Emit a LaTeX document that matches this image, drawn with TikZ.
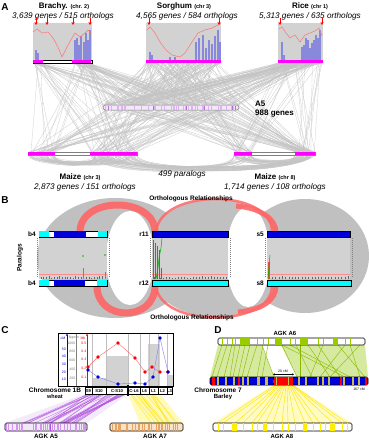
\documentclass[tikz,border=0pt]{standalone}
\usepackage{fontspec}
\setmainfont{Liberation Sans}
\usetikzlibrary{arrows.meta}
\definecolor{mag}{HTML}{FF00FF}
\definecolor{pbg}{HTML}{D2D2D2}
\definecolor{lred}{HTML}{FF6666}
\definecolor{lblue}{HTML}{8888DD}
\definecolor{bblue}{HTML}{0000DD}
\definecolor{bcyan}{HTML}{00FFFF}
\definecolor{ggray}{HTML}{C0C0C0}
\definecolor{lgreen}{HTML}{C8E480}
\definecolor{dgreen}{HTML}{99CC00}
\definecolor{khaki}{HTML}{C8BC50}
\definecolor{lav}{HTML}{F2E8FA}
\definecolor{purp}{HTML}{B050E0}
\definecolor{peach}{HTML}{FBE2C4}
\definecolor{orng}{HTML}{E4A464}
\definecolor{yel}{HTML}{FFEE00}
\definecolor{lgl}{HTML}{C4C4C4}
\tikzset{
  ttl/.style={font=\bfseries\fontsize{8}{9}\selectfont, inner sep=0pt},
  itl/.style={font=\itshape\fontsize{8.2}{9}\selectfont, inner sep=0pt},
  plab/.style={font=\bfseries\fontsize{10}{11}\selectfont, inner sep=0pt},
  bl/.style={font=\bfseries\fontsize{6.5}{7}\selectfont, inner sep=0pt},
  tiny/.style={font=\fontsize{3.5}{4}\selectfont, inner sep=0pt},
  gl/.style={draw=lgl, line width=0.3pt, opacity=0.8},
  redarr/.style={-{Stealth[length=3pt,width=3pt]}, red, line width=0.6pt},
  pline/.style={red!55, line width=0.5pt},
  chrbar/.style={draw=black, line width=0.5pt},
}
\begin{document}
\begin{tikzpicture}[x=1pt,y=-1pt]
\useasboundingbox (0,0) rectangle (369,440);
\fill[white] (0,0) rectangle (369,440);
% ================= PANEL A =================
\pgfmathsetseed{11}
% gray lines top -> A5
\foreach \i in {1,...,60}{
  \pgfmathsetmacro\xa{rnd<0.3?33+10*rnd:72+19*rnd}
  \pgfmathsetmacro\xb{103+136*rnd}
  \draw[gl] (\xa,63) -- (\xb,105);}
\foreach \i in {1,...,100}{
  \pgfmathsetmacro\xa{146+75*rnd}
  \pgfmathsetmacro\xb{103+136*rnd}
  \draw[gl] (\xa,63) -- (\xb,105);}
\foreach \i in {1,...,80}{
  \pgfmathsetmacro\xa{278+45*rnd}
  \pgfmathsetmacro\xb{103+136*rnd}
  \draw[gl] (\xa,63) -- (\xb,105);}
% top -> maize directly
\foreach \i in {1,...,45}{
  \pgfmathsetmacro\xa{rnd<0.3?33+10*rnd:(rnd<0.5?72+19*rnd:146+75*rnd)}
  \pgfmathsetmacro\xb{rnd<0.4?28+27*rnd:90+47*rnd}
  \draw[gl] (\xa,63) -- (\xb,152);}
\foreach \i in {1,...,45}{
  \pgfmathsetmacro\xa{rnd<0.5?146+75*rnd:278+45*rnd}
  \pgfmathsetmacro\xb{rnd<0.4?234+18*rnd:295+20*rnd}
  \draw[gl] (\xa,63) -- (\xb,152);}
% A5 -> maize
\foreach \i in {1,...,60}{
  \pgfmathsetmacro\xa{103+136*rnd}
  \pgfmathsetmacro\xb{rnd<0.35?28+27*rnd:90+47*rnd}
  \draw[gl] (\xa,110) -- (\xb,152);}
\foreach \i in {1,...,50}{
  \pgfmathsetmacro\xa{103+136*rnd}
  \pgfmathsetmacro\xb{rnd<0.4?234+18*rnd:295+20*rnd}
  \draw[gl] (\xa,110) -- (\xb,152);}
% paralog arcs
\foreach \i in {1,...,40}{
  \pgfmathsetmacro\xa{28+27*rnd}
  \pgfmathsetmacro\xb{90+47*rnd}
  \pgfmathsetmacro\d{163+6*rnd}
  \draw[gl] (\xa,155) .. controls (\xa,\d) and (\xb,\d) .. (\xb,155);}
\foreach \i in {1,...,50}{
  \pgfmathsetmacro\xa{90+47*rnd}
  \pgfmathsetmacro\xb{rnd<0.4?234+18*rnd:295+20*rnd}
  \pgfmathsetmacro\d{170+7*rnd}
  \draw[gl] (\xa,155) .. controls (\xa,\d) and (\xb,\d) .. (\xb,155);}
\foreach \i in {1,...,30}{
  \pgfmathsetmacro\xa{234+18*rnd}
  \pgfmathsetmacro\xb{295+20*rnd}
  \pgfmathsetmacro\d{162+6*rnd}
  \draw[gl] (\xa,155) .. controls (\xa,\d) and (\xb,\d) .. (\xb,155);}

\node[plab] (lA) at (5,7) {A};
% Brachy
\node[ttl] (brt) at (64,6) {Brachy. {\fontsize{5.5}{6}\selectfont (chr. 2)}};
\node[itl] (brs) at (63,16) {3,639 genes / 515 orthologs};
\fill[pbg] (33,23) rectangle (92,60);
\foreach \x/\t in {36/50,38/53,75/40,77/38,79/45,81/36,84/42,86/33,88/40,90/30}
  \fill[lblue] (\x-0.6,\t) rectangle (\x+0.6,60);
\draw[pline] (33,32) -- (37,29) -- (42,33) -- (48,32) -- (53,38) -- (58,47) -- (62,57) -- (67,47) -- (72,38) -- (75,33) -- (80,37) -- (85,33) -- (88,30) -- (91,33);
\draw[fill=white, line width=0.3pt] (33,60) rectangle (92,63);
\fill[mag] (33,60) rectangle (43,63);
\fill[mag] (72,60) rectangle (91,63);
\foreach \x in {36,47,73,90} \draw[redarr] (\x,18) -- (\x,25);
% Sorghum
\node[ttl] (sot) at (184,6) {Sorghum {\fontsize{5.5}{6}\selectfont (chr 3)}};
\node[itl] (sos) at (187,16) {4,565 genes / 584 orthologs};
\fill[pbg] (146,23) rectangle (221,60);
\foreach \x/\t in {150/52,152/55,170/57,175/57,196/42,199/38,203/35,206/48,209/40,212/44,215/36,218/30,220/42}
  \fill[lblue] (\x-0.6,\t) rectangle (\x+0.6,60);
\draw[pline] (147,30) -- (150,27) -- (155,33) -- (160,42) -- (166,50) -- (172,55) -- (180,57) -- (185,53) -- (192,42) -- (198,33) -- (205,30) -- (212,28) -- (218,25) -- (221,23);
\fill[mag] (146,60) rectangle (221,63);
\foreach \x in {149,219} \draw[redarr] (\x,18) -- (\x,25);
% Rice
\node[ttl] (rit) at (310,6) {Rice {\fontsize{5.5}{6}\selectfont (chr 1)}};
\node[itl] (ris) at (310,16) {5,313 genes / 635 orthologs};
\fill[pbg] (278,23) rectangle (323,60);
\foreach \x/\t in {282/42,284/55,302/47,304/45,306/38,308/40,310/48,312/43,314/40,316/35,318/38,320/30}
  \fill[lblue] (\x-0.6,\t) rectangle (\x+0.6,60);
\draw[pline] (279,29) -- (282,27) -- (286,33) -- (290,38) -- (295,35) -- (300,42) -- (305,35) -- (310,33) -- (315,31) -- (319,28) -- (322,36);
\fill[mag] (278,60) rectangle (323,63);
\foreach \x in {280,322} \draw[redarr] (\x,18) -- (\x,25);
% A5 bar
\draw[fill=lav, draw=gray, line width=0.5pt, rounded corners=2.5pt] (103,105) rectangle (239,110);
\foreach \i in {1,...,45}{
  \pgfmathsetmacro\xa{105+132*rnd}
  \draw[purp!45, line width=0.35pt] (\xa,105.5) -- (\xa,109.5);}
\foreach \x in {108,153,186,204,232,235}
  \draw[purp!85, line width=0.7pt] (\x,105.5) -- (\x,109.5);
\node[ttl, anchor=west] (a5a) at (255,104) {A5};
\node[ttl, anchor=west] (a5b) at (255,114) {988 genes};
% Maize bars
\draw[fill=white, draw=gray, line width=0.3pt] (28,152) rectangle (137,155);
\fill[mag] (28,152) rectangle (55,155);
\fill[mag] (90,152) rectangle (137,155);
\draw[fill=white, draw=gray, line width=0.3pt] (234,152) rectangle (315,155);
\fill[mag] (234,152) rectangle (252,155);
\fill[mag] (295,152) rectangle (315,155);
\node[ttl] (m3t) at (80,177) {Maize {\fontsize{5.5}{6}\selectfont (chr 3)}};
\node[itl] (m3s) at (85,187) {2,873 genes / 151 orthologs};
\node[itl] (par) at (182,174) {499 paralogs};
\node[ttl] (m8t) at (275,177) {Maize {\fontsize{5.5}{6}\selectfont (chr 8)}};
\node[itl] (m8s) at (275,187) {1,714 genes / 108 orthologs};

% ================= PANEL B =================
\node[plab] (lB) at (5,200) {B};
\fill[ggray] (115,258) ellipse [x radius=78, y radius=60];
\fill[ggray] (215,258) ellipse [x radius=72, y radius=59];
\fill[ggray] (305,256) ellipse [x radius=64, y radius=57];
\fill[white] (130,258) ellipse [x radius=24, y radius=47];
\fill[white] (248,257) ellipse [x radius=22, y radius=50];
\draw[lred, line width=7pt, opacity=0.9] (80,232) .. controls (80,196) and (155,196) .. (155,232);
\draw[lred, line width=7pt, opacity=0.9] (97,286) .. controls (97,322) and (155,322) .. (155,286);
\draw[lred, line width=2.5pt, opacity=0.85] (156,232) .. controls (160,188) and (272,188) .. (272,232);
\draw[lred, line width=2.5pt, opacity=0.85] (156,286) .. controls (160,328) and (272,328) .. (272,286);
\draw[lred, line width=5pt, opacity=0.9] (236,206) .. controls (262,208) and (276,220) .. (276,232);
\draw[lred, line width=5pt, opacity=0.9] (276,286) .. controls (276,300) and (262,310) .. (238,312);
\node[bl] (ort1) at (191,199) {Orthologous Relationships};
\node[bl] (ort2) at (192,318) {Orthologous Relationships};
% plots
\foreach \xa/\xb in {39/107,152/228,267/350}{
  \fill[pbg] (\xa,237) rectangle (\xb,279);
  \draw[red!45, line width=0.4pt] (\xa,274) -- (\xb,274);
  \draw[gray, line width=0.6pt, dash pattern=on 0.5pt off 1.5pt] (\xa-2,238) -- (\xa-2,278);
  \draw[gray, line width=0.6pt, dash pattern=on 0.5pt off 1.5pt] (\xb+2,238) -- (\xb+2,278);
  \foreach \k in {0,...,24}{
    \pgfmathsetmacro\xx{\xa+2+(\xb-\xa-4)*\k/24}
    \pgfmathsetmacro\hh{277.8-1.6*rnd}
    \draw[black!60, line width=0.35pt] (\xx,\hh) -- (\xx,279);}
}
% b4 plot details
\fill[red!70] (82.5,268) rectangle (83.5,279);
\fill[red!70] (105,272) rectangle (106,279);
\fill[green!70!black] (83,256) circle (0.9);
\fill[green!70!black] (105,255) circle (0.9);
% r11 details
\foreach \x/\t in {153.5/240,155.5/243,157.5/246,159.5/250,161.5/268}
  \fill[red!85] (\x-0.7,\t) rectangle (\x+0.7,279);
\draw[green!70!black, line width=0.5pt] (156,279) -- (158,268) -- (159,258) -- (161,248) -- (162,238);
% s5 details
\fill[red!75] (267.5,262) rectangle (270,279);
\draw[green!70!black, line width=0.5pt] (268,279) -- (269,266) -- (270,255);
% bars b4
\draw[chrbar, fill=white] (39,231) rectangle (107,237);
\fill[bcyan] (39.3,231.3) rectangle (49,236.7);
\fill[bblue] (54,231.3) rectangle (86,236.7);
\fill[bcyan] (98,231.3) rectangle (106.7,236.7);
\draw[chrbar, fill=white] (39,280) rectangle (107,286);
\fill[bcyan] (39.3,280.3) rectangle (49,285.7);
\fill[bblue] (54,280.3) rectangle (85,285.7);
\fill[bcyan] (97,280.3) rectangle (106.7,285.7);
\draw[chrbar, fill=bblue] (152,231) rectangle (228,237);
\draw[chrbar, fill=bcyan] (152,280) rectangle (228,286);
\draw[chrbar, fill=bblue] (267,231) rectangle (350,237);
\draw[chrbar, fill=bcyan] (267,280) rectangle (351,286);
\node[bl, anchor=east] (b4a) at (36,234) {b4};
\node[bl, anchor=east] (b4b) at (36,283) {b4};
\node[bl, anchor=east] (r11) at (149,234) {r11};
\node[bl, anchor=east] (r12) at (149,283) {r12};
\node[bl, anchor=east] (s5) at (264,234) {s5};
\node[bl, anchor=east] (s8) at (264,283) {s8};
\node[bl, rotate=90] (parl) at (20,258) {Paralogs};

% ================= PANEL C =================
\node[plab] (lC) at (5,330) {C};
% fans
\fill[lav, opacity=0.9] (85,394) -- (128,394) -- (87,423) -- (5,423) -- cycle;
\fill[yel!35, opacity=0.8] (128,394) -- (160,394) -- (183,423) -- (140,423) -- cycle;
\foreach \i in {1,...,34}{
  \pgfmathsetmacro\xa{86+41*rnd}
  \pgfmathsetmacro\xb{\xa-70+35*rnd}
  \pgfmathsetmacro\xc{max(6,min(86,\xb))}
  \draw[purp, line width=0.35pt, opacity=0.75] (\xa,394) -- (\xc,423);}
\foreach \i in {1,...,14}{
  \pgfmathsetmacro\xa{130+28*rnd}
  \pgfmathsetmacro\xb{\xa+12+14*rnd}
  \pgfmathsetmacro\xc{max(141,min(182,\xb))}
  \draw[yel!90!orange, line width=0.35pt, opacity=0.8] (\xa,394) -- (\xc,423);}
% chart
\draw[black, line width=0.6pt, fill=white] (58,333) rectangle (173,386);
\fill[pbg] (92,378) rectangle (106,386);
\fill[pbg] (106,356) rectangle (128,386);
\fill[pbg] (148,344) rectangle (160,386);
\fill[pbg] (167,375) rectangle (172.5,386);
\foreach \x in {92,106,128,140,149,158,167}
  \draw[gray!50, line width=0.3pt] (\x,333.5) -- (\x,385.5);
\draw[bblue, line width=0.5pt, -{Stealth[length=2.5pt,width=2pt]}] (67,386) -- (67,333.5);
\draw[gray, line width=0.5pt] (76,386) -- (76,334);
\draw[red, line width=0.5pt, -{Stealth[length=2.5pt,width=2pt]}] (87,386) -- (87,333.5);
\node[tiny, text=bblue] (cm) at (63,338) {cM};
\node[tiny, text=gray] (ng) at (74,338) {Ngene};
\node[tiny, text=red] (mb) at (83,338) {Mb};
\foreach \v/\y in {50/349,40/356,30/364,20/372,10/379}
  \node[tiny, text=bblue, anchor=east] at (66,\y) {\v};
\foreach \v/\y in {1000/343,800/351,600/360,400/369,200/378}
  \node[tiny, text=gray, anchor=east] at (75.5,\y) {\v};
\foreach \v/\y in {0.5/343,0.4/351,0.3/359,0.2/368,0.1/377}
  \node[tiny, text=red, anchor=east] at (86.5,\y) {\v};
\draw[red!60, line width=0.4pt] (88,367) -- (98,357) -- (118,343) -- (135,358) -- (145,372) -- (152,367) -- (160,372) -- (168,372);
\draw[bblue!50, line width=0.4pt] (88,370) -- (98,377) -- (118,384) -- (135,383) -- (145,384) -- (153,377) -- (160,338) -- (168,372);
\foreach \x/\y in {88/367,98/357,118/343,135/358,145/372,152/367,160/372,168/372}
  \fill[red] (\x,\y) circle (1.8);
\foreach \x/\y in {88/370,98/377,118/384,135/383,145/384,153/377,160/338,168/372}
  \fill[bblue] (\x,\y) circle (1.8);
% chromosome bar segments
\draw[black, line width=0.6pt, fill=white] (85,387) rectangle (172,394);
\foreach \x in {92,106,128,140,149,158,167} \draw[black, line width=0.5pt] (\x,387) -- (\x,394);
\draw[black, line width=1.6pt] (128,385) -- (128,396);
\foreach \a/\b/\t in {85/92/S9,92/106/S10,106/128/C-S10,128/140/C-L6,140/149/L6,149/158/L1,158/167/L2,167/172/L3}
  \node[font=\bfseries\fontsize{4.2}{5}\selectfont, inner sep=0pt] at ({(\a+\b)/2},390.7) {\t};
\node[bl] (chr1b) at (55,390) {Chromosome 1B};
\node[font=\bfseries\fontsize{5.5}{6}\selectfont, inner sep=0pt] (wht) at (55,397) {wheat};
% AGK A5 / A7
\draw[fill=lav, draw=black, line width=0.6pt, rounded corners=1.5pt] (5,423) rectangle (87,431);
\foreach \i in {1,...,45}{
  \pgfmathsetmacro\xa{6+80*rnd}
  \draw[purp!60, line width=0.4pt] (\xa,423.5) -- (\xa,430.5);}
\draw[purp, line width=0.8pt] (50,423.5) -- (50,430.5);
\draw[fill=peach, draw=black, line width=0.6pt, rounded corners=1.5pt] (110,423) rectangle (183,431);
\foreach \i in {1,...,40}{
  \pgfmathsetmacro\xa{111+71*rnd}
  \draw[orng, line width=0.4pt] (\xa,423.5) -- (\xa,430.5);}
\node[font=\bfseries\fontsize{6.3}{7}\selectfont, inner sep=0pt] (a5l) at (46,436.5) {AGK A5};
\node[font=\bfseries\fontsize{6.3}{7}\selectfont, inner sep=0pt] (a7l) at (155,436.5) {AGK A7};

% ================= PANEL D =================
\node[plab] (lD) at (218,330) {D};
\node[font=\bfseries\fontsize{6}{7}\selectfont, inner sep=0pt] (a6l) at (285,333) {AGK A6};
% green fan
\fill[lgreen, opacity=0.75] (218,345) -- (365,345) -- (368,377) -- (210,377) -- cycle;
\fill[white] (262,346) -- (281,346) -- (297,376.5) -- (274,376.5) -- cycle;
\foreach \a/\b in {222/212,227/217,232/224,235/230,240/233,245/238,250/242,257/247,263/257,268/262,262/274,282/297,300/300,308/330,290/350,318/340,323/310,345/320,350/360,338/365,360/330,282/345,296/312}
  \draw[dgreen!90!black, line width=0.4pt] (\a,345) -- (\b,377);
% yellow fan
\fill[yel!30, opacity=0.8] (273,385) -- (293,385) -- (352,423) -- (213,423) -- cycle;
\foreach \a/\b in {275/218,277/223,279/235,280/243,282/252,283/257,284/265,285/273,286/282,287/288,288/295,289/305,290/313,291/320,292/333,292/342,293/347}
  \draw[yel!90!orange, line width=0.4pt] (\a,385) -- (\b,423);
% A6 bar
\draw[fill=white, draw=black, line width=0.6pt, rounded corners=1.5pt] (218,338) rectangle (365,345);
\foreach \a/\b in {240/250,275/282,300/308,333/338}
  \fill[dgreen] (\a,338.4) rectangle (\b,344.6);
\foreach \x in {222,227,232,235,257,263,268,290,295,318,323,345,350}
  \draw[dgreen, line width=0.7pt] (\x,338.4) -- (\x,344.6);
% chromosome 7
\draw[fill=bblue, draw=black, line width=0.6pt, rounded corners=1.5pt] (210,377) rectangle (368,385);
\fill[red] (273,377.4) rectangle (293,384.6);
\foreach \a/\b in {212/214.5,238/240,340/342,365/367}
  \fill[red] (\a,377.4) rectangle (\b,384.6);
\foreach \a/\b in {217/218.5,225/227,233/235,242/243.5,247/248.5,257/260,265/268,276/277,288/289,298/300,305/307,317/318.5,322/323.5,328/330,343/345,352/353.5,358/360}
  \fill[khaki] (\a,377.4) rectangle (\b,384.6);
\draw[black, line width=0.4pt, dashed] (273,377) -- (273,385);
\draw[black, line width=0.4pt, dashed] (293,377) -- (293,385);
\draw[{Stealth[length=1.8pt,width=2pt]}-{Stealth[length=1.8pt,width=2pt]}, line width=0.5pt] (273,374.3) -- (294,374.3);
\node[tiny] (cm20) at (283,371.3) {20 cM};
\node[bl] (ch7) at (218,390) {Chromosome 7};
\node[font=\bfseries\fontsize{6}{7}\selectfont, inner sep=0pt] (bar) at (223,397) {Barley};
\node[tiny] (cm167) at (359,389.5) {167 cM};
% A8 bar
\draw[fill=white, draw=black, line width=0.6pt, rounded corners=1.5pt] (213,423) rectangle (352,431);
\foreach \a/\b in {232/237,263/267,303/307,330/335}
  \fill[yel] (\a,423.4) rectangle (\b,430.6);
\foreach \x in {218,223,243,252,257,273,282,288,295,313,320,325,342,347}
  \draw[yel, line width=0.8pt] (\x,423.4) -- (\x,430.6);
\node[font=\bfseries\fontsize{6}{7}\selectfont, inner sep=0pt] (a8l) at (282,436.5) {AGK A8};
\end{tikzpicture}
\end{document}
